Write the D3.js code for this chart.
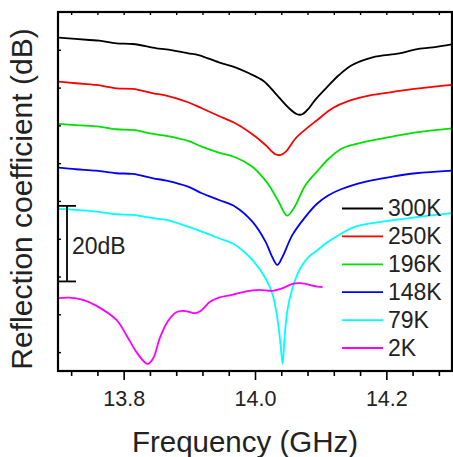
<!DOCTYPE html>
<html>
<head>
<meta charset="utf-8">
<script src="https://cdn.jsdelivr.net/npm/d3@7"></script>
<style>
  html, body { margin: 0; padding: 0; background: #fff; }
  svg { display: block; }
  text { font-family: "Liberation Sans", Arial, Helvetica, sans-serif; fill: #222; }
</style>
</head>
<body>
<svg id="chart" width="453" height="457"></svg>
<script>
// ---------- data (frequency in GHz, reflection in dB, curves offset for display) ----------
const seriesNames = ["300K", "250K", "196K", "148K", "79K", "2K"];
const seriesColors = ["#000000", "#ff0000", "#00e000", "#0000ff", "#00ffff", "#ff00ff"];

const freq300 = [13.701,13.748,13.763,13.789,13.814,13.850,13.865,13.898,13.914,13.945,13.970,13.991,14.013,14.031,14.052,14.064,14.072,14.082,14.092,14.108,14.128,14.148,14.179,14.220,14.245,14.271,14.300];
const db300   = [-6.80,-7.41,-7.59,-8.28,-8.47,-9.60,-9.87,-10.93,-11.38,-13.31,-14.63,-16.22,-18.25,-21.51,-25.48,-27.06,-27.06,-25.48,-23.2,-20.19,-16.67,-14.02,-11.98,-10.93,-9.87,-9.34,-8.54];

const freq250 = [13.701,13.7275,13.758,13.789,13.814,13.845,13.865,13.898,13.919,13.945,13.970,13.996,14.016,14.031,14.039,14.047,14.062,14.082,14.094,14.118,14.143,14.179,14.220,14.260,14.300];
const db250   = [-18.44,-18.86,-19.31,-20.19,-20.37,-21.51,-22.14,-23.89,-25.48,-27.51,-29.44,-32.35,-35.19,-37.65,-37.83,-36.96,-33.41,-30.34,-28.7,-25.48,-23.54,-21.96,-20.90,-20.03,-19.31];

const freq196 = [13.701,13.748,13.763,13.789,13.814,13.845,13.865,13.898,13.919,13.945,13.970,13.996,14.011,14.021,14.036,14.049,14.059,14.077,14.094,14.113,14.133,14.169,14.209,14.245,14.300];
const db196   = [-29.63,-30.16,-30.34,-31.03,-31.22,-32.28,-32.80,-34.13,-35.63,-37.22,-38.44,-40.93,-43.57,-45.77,-50.19,-53.89,-51.93,-45.77,-42.3,-38.70,-36.06,-34.31,-32.99,-31.83,-30.77];

const freq148 = [13.701,13.7275,13.758,13.789,13.814,13.845,13.865,13.898,13.919,13.945,13.970,13.996,14.016,14.026,14.034,14.042,14.057,14.077,14.094,14.112,14.131,14.169,14.209,14.245,14.300];
const db148   = [-41.19,-41.61,-41.98,-42.67,-42.86,-44.00,-44.63,-46.22,-47.96,-49.74,-51.51,-55.48,-60.77,-64.74,-66.93,-64.74,-58.99,-54.15,-50.8,-48.5,-46.90,-44.89,-43.57,-42.67,-41.98];

const freq79 = [13.701,13.7275,13.758,13.789,13.814,13.845,13.865,13.898,13.919,13.945,13.970,13.996,14.016,14.027,14.034,14.039,14.042,14.045,14.049,14.057,14.069,14.082,14.094,14.108,14.128,14.153,14.194,14.245,14.300];
const db79   = [-52.12,-52.38,-52.83,-53.52,-53.70,-54.58,-55.03,-56.80,-58.12,-59.87,-61.64,-65.61,-70.45,-74.87,-81.03,-88.10,-93.12,-86.32,-79.29,-73.10,-67.80,-64.74,-63.2,-61.19,-58.99,-56.80,-55.48,-54.31,-53.25];

const freq2 = [13.701,13.717,13.738,13.758,13.789,13.804,13.819,13.832,13.837,13.845,13.855,13.867,13.880,13.890,13.898,13.909,13.917,13.932,13.945,13.965,13.985,14.006,14.026,14.039,14.057,14.069,14.095,14.103];
const db2   = [-75.74,-75.58,-76.19,-77.70,-81.48,-85.45,-89.87,-92.67,-93.12,-91.64,-86.32,-81.93,-79.44,-79.10,-79.29,-79.71,-79.10,-76.64,-75.58,-74.87,-73.99,-73.54,-73.81,-73.28,-71.96,-71.77,-72.67,-72.83];

const allFreqs = [freq300, freq250, freq196, freq148, freq79, freq2];
const allDbs   = [db300, db250, db196, db148, db79, db2];

const xDomain = [13.7, 14.3];
const yDomain = [-95, 0];
const xMajorTicks = [13.8, 14.0, 14.2];
const xMinorTicks = [13.72,13.76,13.80,13.84,13.88,13.92,13.96,14.00,14.04,14.08,14.12,14.16,14.20,14.24,14.28];
const yTicks = [-90,-80,-70,-60,-50,-40,-30,-20,-10];
const scaleBarTop = -51.3;
const scaleBarSpan = 20;
const scaleBarLabel = "20dB";
const xTitle = "Frequency (GHz)";
const yTitle = "Reflection coefficient (dB)";

// ---------- layout ----------
const mLeft = 58, mRight = 452, mTop = 12, mBottom = 371;
const svg = d3.select("#chart");
const x = d3.scaleLinear().domain(xDomain).range([mLeft, mRight]);
const y = d3.scaleLinear().domain(yDomain).range([mBottom, mTop]);

// curves
const line = d3.line().x(d => x(d[0])).y(d => y(d[1])).curve(d3.curveCatmullRom.alpha(0.5));
allFreqs.forEach((fs, i) => {
  const pts = fs.map((f, j) => [f, allDbs[i][j]]);
  svg.append("path").datum(pts)
    .attr("d", line)
    .attr("fill", "none")
    .attr("stroke", seriesColors[i])
    .attr("stroke-width", 1.8)
    .attr("stroke-linejoin", "round");
});

// bottom axis
const fmt = d3.format(".1f");
const isMajor = v => xMajorTicks.some(m => Math.abs(m - v) < 1e-6);
const gx = svg.append("g").attr("transform", `translate(0,${mBottom})`)
  .call(d3.axisBottom(x).tickValues(xMinorTicks).tickSize(5).tickSizeOuter(0)
    .tickFormat(v => isMajor(v) ? fmt(v) : ""));
gx.select(".domain").remove();
gx.selectAll(".tick line").attr("stroke", "#000").attr("stroke-width", 1.6)
  .attr("y2", v => isMajor(v) ? 9 : 5);
gx.selectAll(".tick text").attr("y", 35).attr("dy", null)
  .attr("font-size", 21.5).attr("fill", "#222")
  .attr("font-family", '"Liberation Sans", Arial, Helvetica, sans-serif');

// top axis (inward ticks)
const gt = svg.append("g").attr("transform", `translate(0,${mTop})`)
  .call(d3.axisBottom(x).tickValues(xMinorTicks).tickSize(3).tickFormat(""));
gt.select(".domain").remove();
gt.selectAll(".tick line").attr("stroke", "#000").attr("stroke-width", 1.4);

// left axis (inward ticks, no labels)
const gy = svg.append("g").attr("transform", `translate(${mLeft},0)`)
  .call(d3.axisRight(y).tickValues(yTicks).tickSize(3).tickFormat(""));
gy.select(".domain").remove();
gy.selectAll(".tick line").attr("stroke", "#000").attr("stroke-width", 1.4);

// frame
svg.append("rect").attr("x", mLeft).attr("y", mTop)
  .attr("width", mRight - mLeft).attr("height", mBottom - mTop)
  .attr("fill", "none").attr("stroke", "#000").attr("stroke-width", 2.2);

// scale bar
const sbX = 67, sbCapL = mLeft, sbCapR = 76;
const sbY1 = y(scaleBarTop), sbY2 = y(scaleBarTop - scaleBarSpan);
const sb = svg.append("g").attr("stroke", "#000").attr("stroke-width", 1.8);
sb.append("line").attr("x1", sbX).attr("x2", sbX).attr("y1", sbY1).attr("y2", sbY2);
sb.append("line").attr("x1", sbCapL).attr("x2", sbCapR).attr("y1", sbY1).attr("y2", sbY1);
sb.append("line").attr("x1", sbCapL).attr("x2", sbCapR).attr("y1", sbY2).attr("y2", sbY2);
svg.append("text").attr("x", 72).attr("y", 253.5).attr("font-size", 23).text(scaleBarLabel);

// legend
const legX1 = 342, legX2 = 383, legY0 = 208.5, legDy = 27.9;
seriesNames.forEach((name, i) => {
  const yy = legY0 + i * legDy;
  svg.append("line").attr("x1", legX1).attr("x2", legX2).attr("y1", yy).attr("y2", yy)
    .attr("stroke", seriesColors[i]).attr("stroke-width", 1.8);
  svg.append("text").attr("x", 388).attr("y", yy + 7.8).attr("font-size", 23).text(name);
});

// axis titles
svg.append("text").attr("x", 245).attr("y", 452).attr("text-anchor", "middle")
  .attr("font-size", 29.5).text(xTitle);
svg.append("text").attr("transform", "translate(32,199) rotate(-90)")
  .attr("text-anchor", "middle").attr("font-size", 30).text(yTitle);
</script>
</body>
</html>
